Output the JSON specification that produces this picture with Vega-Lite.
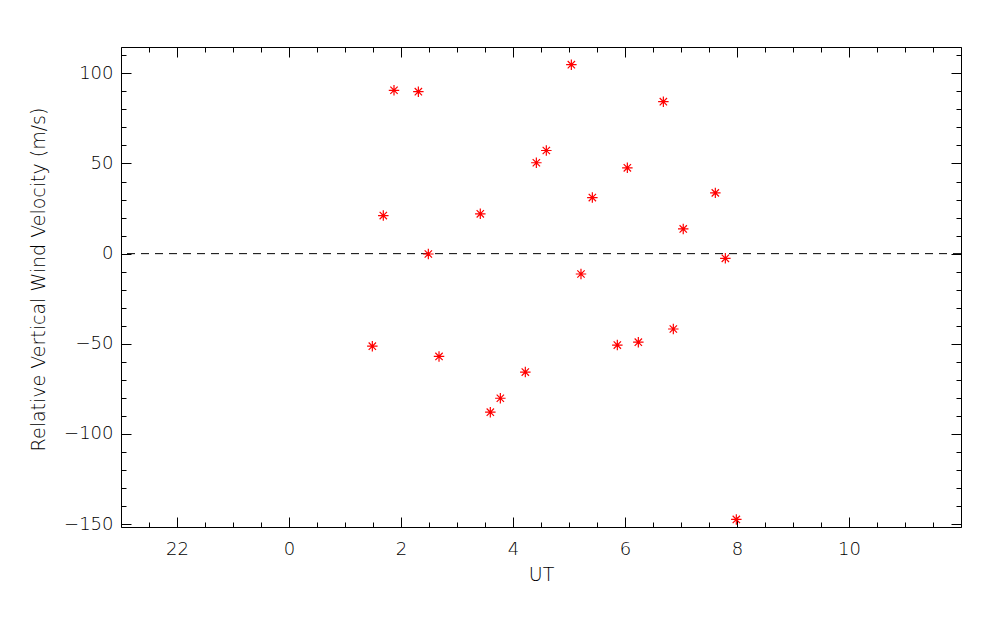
{
  "$schema": "https://vega.github.io/schema/vega-lite/v6.json",
  "width": 840,
  "height": 480,
  "autosize": {"type": "none"},
  "padding": {"left": 121, "top": 47, "right": 39, "bottom": 98},
  "background": "white",
  "config": {
    "view": {"stroke": null},
    "axis": {
      "domainColor": "black", "tickColor": "black", "labelColor": "black", "titleColor": "black",
      "labelFont": "DejaVu Sans", "titleFont": "DejaVu Sans", "labelFontSize": 18, "titleFontSize": 19,
      "labelFontWeight": 200, "titleFontWeight": 200, "grid": false, "domainWidth": 1, "tickWidth": 1
    }
  },
  "datasets": {
    "pts": [
      {"ut": 1.488, "w": -51.3},
      {"ut": 1.684, "w": 21.1},
      {"ut": 1.875, "w": 90.6},
      {"ut": 2.31, "w": 89.8},
      {"ut": 2.488, "w": -0.2},
      {"ut": 2.679, "w": -57.0},
      {"ut": 3.416, "w": 22.1},
      {"ut": 3.595, "w": -87.9},
      {"ut": 3.774, "w": -80.2},
      {"ut": 4.22, "w": -65.7},
      {"ut": 4.417, "w": 50.4},
      {"ut": 4.595, "w": 57.2},
      {"ut": 5.042, "w": 104.8},
      {"ut": 5.214, "w": -11.3},
      {"ut": 5.417, "w": 31.1},
      {"ut": 5.863, "w": -50.7},
      {"ut": 6.042, "w": 47.6},
      {"ut": 6.238, "w": -49.1},
      {"ut": 6.685, "w": 84.3},
      {"ut": 6.863, "w": -41.8},
      {"ut": 7.04, "w": 13.7},
      {"ut": 7.613, "w": 33.7},
      {"ut": 7.792, "w": -2.6},
      {"ut": 7.988, "w": -147.4}
    ],
    "zero": [{"v": 0}]
  },
  "layer": [
    {
      "data": {"name": "zero"},
      "mark": {"type": "rule", "color": "black", "strokeWidth": 1, "strokeDash": [8, 6]},
      "encoding": {
        "y": {"field": "v", "type": "quantitative",
          "scale": {"domain": [-151.6, 114.6], "nice": false, "zero": false},
          "axis": {"orient": "left", "labels": false, "title": null, "domain": false, "tickSize": -5,
            "values": [-150,-140,-130,-120,-110,-100,-90,-80,-70,-60,-50,-40,-30,-20,-10,0,10,20,30,40,50,60,70,80,90,100,110]}}
      }
    },
    {
      "data": {"name": "pts"},
      "mark": {"type": "point", "shape": "M-1,0L1,0M0,-1L0,1M-0.7,-0.7L0.7,0.7M-0.7,0.7L0.7,-0.7", "size": 110, "filled": false, "stroke": "red", "strokeWidth": 1.2, "opacity": 1},
      "encoding": {
        "x": {"field": "ut", "type": "quantitative",
          "scale": {"domain": [-3, 12], "nice": false, "zero": false},
          "axis": {"orient": "bottom", "title": "UT", "tickSize": -10, "labelPadding": 23, "titlePadding": 7,
            "values": [-2, 0, 2, 4, 6, 8, 10],
            "labelExpr": "datum.value < 0 ? format(datum.value + 24, 'd') : format(datum.value, 'd')"}},
        "y": {"field": "w", "type": "quantitative",
          "scale": {"domain": [-151.6, 114.6], "nice": false, "zero": false},
          "axis": {"orient": "left", "title": "Relative Vertical Wind Velocity (m/s)", "tickSize": -10, "labelPadding": 18, "titlePadding": 15, "titleY": 232,
            "values": [-150, -100, -50, 0, 50, 100], "format": "d"}}
      }
    },
    {
      "data": {"name": "pts"},
      "mark": {"type": "point", "opacity": 0},
      "encoding": {
        "x": {"field": "ut", "type": "quantitative",
          "scale": {"domain": [-3, 12], "nice": false, "zero": false},
          "axis": {"orient": "bottom", "title": null, "labels": false, "domain": false, "tickSize": -5,
            "values": [-3,-2.5,-2,-1.5,-1,-0.5,0,0.5,1,1.5,2,2.5,3,3.5,4,4.5,5,5.5,6,6.5,7,7.5,8,8.5,9,9.5,10,10.5,11,11.5,12]}},
        "y": {"field": "w", "type": "quantitative",
          "scale": {"domain": [-151.6, 114.6], "nice": false, "zero": false},
          "axis": {"orient": "right", "title": null, "labels": false, "tickSize": -10,
            "values": [-150, -100, -50, 0, 50, 100]}}
      }
    },
    {
      "data": {"name": "pts"},
      "mark": {"type": "point", "opacity": 0},
      "encoding": {
        "x": {"field": "ut", "type": "quantitative",
          "scale": {"domain": [-3, 12], "nice": false, "zero": false},
          "axis": {"orient": "top", "title": null, "labels": false, "tickSize": -10,
            "values": [-2, 0, 2, 4, 6, 8, 10]}},
        "y": {"field": "w", "type": "quantitative",
          "scale": {"domain": [-151.6, 114.6], "nice": false, "zero": false},
          "axis": {"orient": "right", "title": null, "labels": false, "domain": false, "tickSize": -5,
            "values": [-150,-140,-130,-120,-110,-100,-90,-80,-70,-60,-50,-40,-30,-20,-10,0,10,20,30,40,50,60,70,80,90,100,110]}}
      }
    },
    {
      "data": {"name": "pts"},
      "mark": {"type": "point", "opacity": 0},
      "encoding": {
        "x": {"field": "ut", "type": "quantitative",
          "scale": {"domain": [-3, 12], "nice": false, "zero": false},
          "axis": {"orient": "top", "title": null, "labels": false, "domain": false, "tickSize": -5,
            "values": [-3,-2.5,-2,-1.5,-1,-0.5,0,0.5,1,1.5,2,2.5,3,3.5,4,4.5,5,5.5,6,6.5,7,7.5,8,8.5,9,9.5,10,10.5,11,11.5,12]}},
        "y": {"field": "w", "type": "quantitative",
          "scale": {"domain": [-151.6, 114.6], "nice": false, "zero": false},
          "axis": null}
      }
    }
  ],
  "resolve": {"axis": {"x": "independent", "y": "independent"}}
}
